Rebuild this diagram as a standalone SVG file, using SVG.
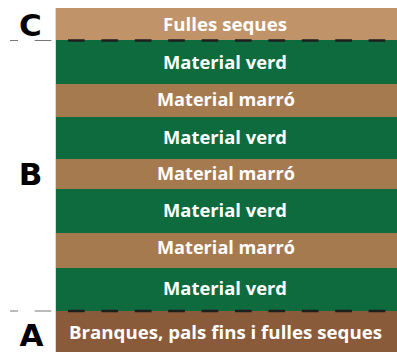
<svg xmlns="http://www.w3.org/2000/svg" width="397" height="352" viewBox="0 0 397 352">
<style>
.green{fill:#0e6b3d}
.brown{fill:#a67a4f}
.tan{fill:#c09468}
.dark{fill:#8a5b3b}
.lbl{font-family:"Open Sans","Liberation Sans",sans-serif;font-weight:bold;font-size:17.5px;fill:#ffffff;text-anchor:middle}
.big{font-family:"DejaVu Sans","Liberation Sans",sans-serif;font-weight:bold;font-size:31px;fill:#000000;text-anchor:middle}
.dashL{stroke:#777777;stroke-width:1;stroke-dasharray:16.7 16.7;fill:none}
.dashS{stroke:#1e1e1e;stroke-width:2.5;stroke-dasharray:16.7 16.7;fill:none}
</style>
<rect x="0" y="0" width="397" height="352" fill="#ffffff"/>
<g id="layer-c"><rect class="tan" x="56" y="8" width="341" height="32"/><text class="lbl" x="225" y="31" textLength="124" lengthAdjust="spacingAndGlyphs">Fulles seques</text></g>
<g id="layer-green-1"><rect class="green" x="56" y="40" width="341" height="44"/><text class="lbl" x="225" y="69" textLength="124" lengthAdjust="spacingAndGlyphs">Material verd</text></g>
<g id="layer-brown-1"><rect class="brown" x="56" y="84" width="341" height="33"/><text class="lbl" x="226" y="106" textLength="138" lengthAdjust="spacingAndGlyphs">Material marró</text></g>
<g id="layer-green-2"><rect class="green" x="56" y="117" width="341" height="42"/><text class="lbl" x="225" y="144" textLength="124" lengthAdjust="spacingAndGlyphs">Material verd</text></g>
<g id="layer-brown-2"><rect class="brown" x="56" y="159" width="341" height="30"/><text class="lbl" x="226" y="180" textLength="138" lengthAdjust="spacingAndGlyphs">Material marró</text></g>
<g id="layer-green-3"><rect class="green" x="56" y="189" width="341" height="44"/><text class="lbl" x="225" y="217" textLength="124" lengthAdjust="spacingAndGlyphs">Material verd</text></g>
<g id="layer-brown-3"><rect class="brown" x="56" y="233" width="341" height="35"/><text class="lbl" x="226" y="254" textLength="138" lengthAdjust="spacingAndGlyphs">Material marró</text></g>
<g id="layer-green-4"><rect class="green" x="56" y="268" width="341" height="43"/><text class="lbl" x="225" y="295" textLength="124" lengthAdjust="spacingAndGlyphs">Material verd</text></g>
<g id="layer-a"><rect class="dark" x="56" y="311" width="341" height="41"/><text class="lbl" x="225.5" y="339" textLength="313" lengthAdjust="spacingAndGlyphs">Branques, pals fins i fulles seques</text></g>
<line x1="55.5" y1="8" x2="55.5" y2="352" stroke="#d8d8d8" stroke-width="1"/>
<g id="label-c"><text class="big" x="30.5" y="36">C</text></g>
<g id="label-b"><text class="big" x="30.5" y="185">B</text></g>
<g id="label-a"><text class="big" x="31.5" y="346">A</text></g>
<g id="connectors">
<line class="dashL" x1="10" y1="40.5" x2="55" y2="40.5" stroke-dashoffset="8.7"/>
<line class="dashS" x1="56" y1="40.5" x2="397" y2="40.5" stroke-dashoffset="21.4"/>
<line class="dashL" x1="10" y1="311" x2="55" y2="311" stroke-dashoffset="8.7"/>
<line class="dashS" x1="56" y1="311" x2="397" y2="311" stroke-dashoffset="21.4"/>
</g>
</svg>
